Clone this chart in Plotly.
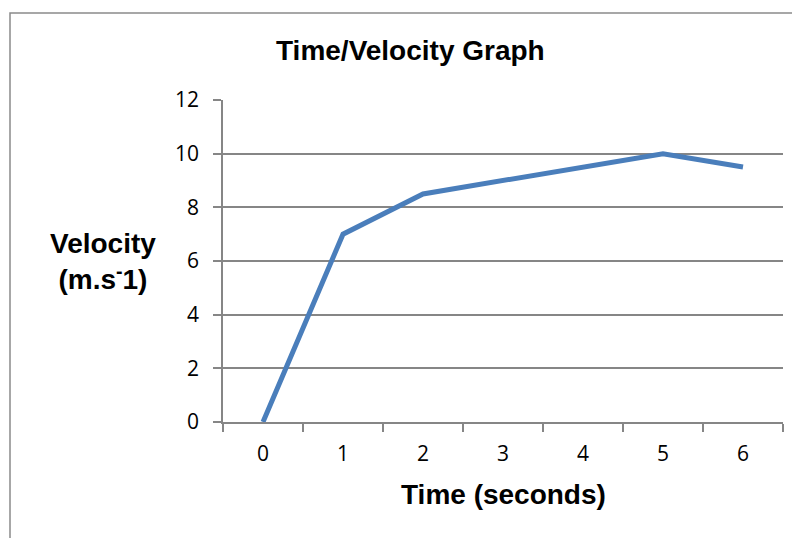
import plotly.graph_objects as go

time_labels = ["0", "1", "2", "3", "4", "5", "6"]
velocity = [0, 7, 8.5, 9, 9.5, 10, 9.5]
y_ticks = [0, 2, 4, 6, 8, 10, 12]

title_text = "Time/Velocity Graph"
x_title = "Time (seconds)"
y_title = "Velocity<br>(m.s<sup>-</sup>1)"

OFF = 8  # default page body margin
W, H = 800 - OFF, 538 - OFF
L, R, T, B = 223 - OFF, 783 - OFF, 100 - OFF, 422 - OFF


def px_x(p):
    return (p - OFF - L) / (R - L)


def px_y(p):
    return (B - (p - OFF)) / (B - T)


fig = go.Figure()
fig.add_trace(go.Scatter(
    x=time_labels, y=velocity, mode="lines",
    line=dict(color="#4a7ebb", width=5),
    showlegend=False, hoverinfo="skip",
))

grid = "#868686"
tickfont = dict(family="Open Sans, Lato, sans-serif", size=21, color="#000000")

fig.update_layout(
    width=W, height=H,
    margin=dict(l=L, r=W - R, t=T, b=H - B, pad=0),
    paper_bgcolor="white", plot_bgcolor="white",
    xaxis=dict(
        type="category", range=[-0.5, 6.5], tickson="boundaries",
        showline=True, linecolor=grid, linewidth=1.5,
        ticks="outside", ticklen=8, tickcolor=grid, tickwidth=1.5,
        showgrid=False, zeroline=False, tickfont=tickfont,
        ticklabelstandoff=12,
    ),
    yaxis=dict(
        range=[0, 12], tickvals=y_ticks,
        showline=True, linecolor=grid, linewidth=1.5,
        ticks="outside", ticklen=8, tickcolor=grid, tickwidth=1.5,
        showgrid=True, gridcolor=grid, gridwidth=1.5,
        zeroline=False, tickfont=tickfont, ticklabelstandoff=10,
    ),
)

bold = dict(family="Liberation Sans, Arial, sans-serif", size=28, color="#000000")
fig.add_annotation(text="<b>%s</b>" % title_text, xref="paper", yref="paper",
                   x=px_x(410), y=px_y(50), showarrow=False, font=bold,
                   xanchor="center", yanchor="middle")
fig.add_annotation(text="<b>%s</b>" % x_title, xref="paper", yref="paper",
                   x=px_x(503), y=px_y(494), showarrow=False, font=bold,
                   xanchor="center", yanchor="middle")
fig.add_annotation(text="<b>%s</b>" % y_title, xref="paper", yref="paper",
                   x=px_x(103), y=px_y(261), showarrow=False, font=bold,
                   xanchor="center", yanchor="middle", align="center")

fig.add_shape(type="rect", xref="paper", yref="paper",
              x0=px_x(10), x1=px_x(830), y0=px_y(13), y1=px_y(580),
              line=dict(color="#8a8a8a", width=1.5), fillcolor="rgba(0,0,0,0)",
              layer="below")

fig.write_html("out.html")
